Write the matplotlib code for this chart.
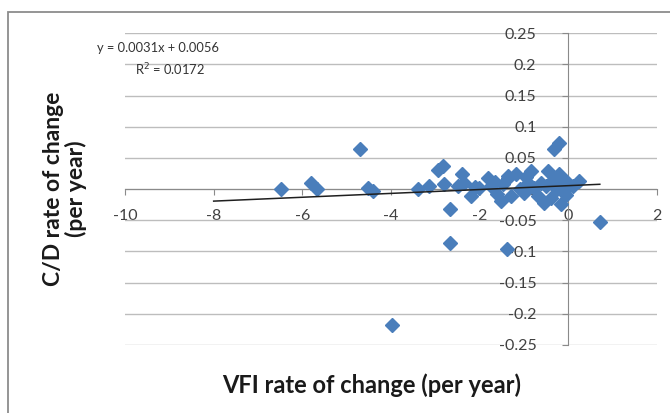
import numpy as np
import matplotlib
matplotlib.use('Agg')
import matplotlib.pyplot as plt
from matplotlib.patches import Rectangle

plt.rcParams['font.family'] = ['Lato', 'DejaVu Sans']
plt.rcParams['axes.unicode_minus'] = False

# VFI rate of change (x) vs C/D rate of change (y)
vfi = [-6.47, -5.80, -5.68, -4.71, -4.52, -4.41, -3.98,
       -3.38, -3.15, -2.93, -2.82, -2.81, -2.68, -2.68, -2.50, -2.39, -2.36,
       -2.20, -2.02, -1.82, -1.75, -1.60, -1.52, -1.48, -1.39, -1.37, -1.35,
       -1.30, -1.19, -1.00, -0.92, -0.85, -0.69, -0.62, -0.55, -0.46, -0.40,
       -0.33, -0.33, -0.21, -0.21, -0.17, -0.10, -0.06, 0.10, 0.24, 0.71,
       -1.10, -0.78, -0.50, -0.25, -0.15, -0.05, -1.65, -2.10, -0.95]
cd = [0.000, 0.010, 0.000, 0.064, 0.002, -0.003, -0.218,
      0.000, 0.005, 0.030, 0.037, 0.008, -0.032, -0.087, 0.005, 0.024, 0.010,
      -0.011, 0.002, 0.018, 0.005, -0.008, -0.019, 0.008, -0.096, 0.021, 0.018,
      -0.011, 0.024, -0.006, 0.010, 0.029, -0.011, 0.010, -0.022, 0.029, -0.014,
      0.016, 0.064, 0.074, 0.024, -0.024, -0.003, 0.013, 0.005, 0.013, -0.053,
      0.000, 0.002, 0.005, 0.000, 0.008, -0.010, 0.012, 0.003, 0.020]

# linear trendline as printed on the chart
slope, intercept = 0.0031, 0.0056
trend_x = [-8.0, 0.71]
eq_text = 'y = 0.0031x + 0.0056'
r2_text = 'R$^2$ = 0.0172'

x_ticks = [-10, -8, -6, -4, -2, 0, 2]
y_ticks = [-0.25, -0.2, -0.15, -0.1, -0.05, 0, 0.05, 0.1, 0.15, 0.2, 0.25]
y_ticklabels = ['-0.25', '-0.2', '-0.15', '-0.1', '-0.05', '0', '0.05', '0.1', '0.15', '0.2', '0.25']

W, H = 670, 413
fig = plt.figure(figsize=(W/100, H/100), dpi=100)
fig.patch.set_facecolor('white')

# chart area border
fig.patches.append(Rectangle((8/W, -0.05), 1.2, 1 - 12/H + 0.05, transform=fig.transFigure,
                             fill=False, ec='#8c8c8c', lw=1.3))

ax = fig.add_axes([125/W, 1 - 345/H, (657 - 125)/W, (345 - 33.3)/H])
ax.set_xlim(-10, 2)
ax.set_ylim(-0.25, 0.25)
ax.set_xticks(x_ticks)
ax.set_yticks(y_ticks)
ax.set_yticklabels(y_ticklabels)
ax.grid(axis='y', color='#bdbdbd', lw=1.0)
ax.set_axisbelow(True)

for s in ['top', 'right']:
    ax.spines[s].set_visible(False)
ax.spines['left'].set_position(('data', 0))
ax.spines['bottom'].set_position(('data', 0))
ax.spines['left'].set_color('#8a8a8a')
ax.spines['bottom'].set_color('#8a8a8a')
ax.tick_params(axis='x', direction='out', length=4, color='#8a8a8a', pad=10,
               labelsize=11.5, labelcolor='#404040')
ax.tick_params(axis='y', direction='out', length=4, color='#8a8a8a', pad=19,
               labelsize=11.5, labelcolor='#404040')

ax.plot(vfi, cd, ls='none', marker='D', ms=7.5, mfc='#4a7ebb', mec='#4a7ebb', zorder=3)
tx = np.array(trend_x)
ax.plot(tx, slope*tx + intercept, color='#1f1f1f', lw=1.1, zorder=4)

fig.text(97/W, 1 - 48/H, eq_text, fontsize=9.3, color='#333333', va='center')
fig.text(135/W, 1 - 70/H, r2_text, fontsize=9.3, color='#333333', va='center')

fig.text(372/W, 1 - 385/H, 'VFI rate of change (per year)', fontsize=17, fontweight='bold',
         color='#1a1a1a', ha='center', va='center')
fig.text(65/W, 1 - 189/H, 'C/D rate of change\n(per year)', fontsize=16.5, fontweight='bold',
         color='#1a1a1a', ha='center', va='center', rotation=90, linespacing=1.1)

fig.savefig('out.png', dpi=100)
